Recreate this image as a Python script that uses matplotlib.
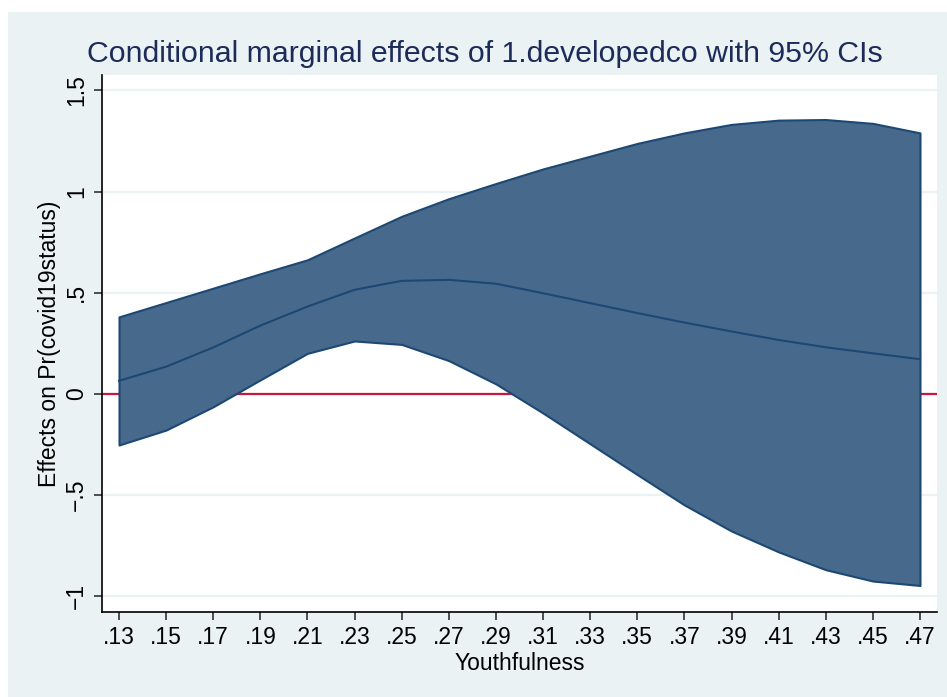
import matplotlib.pyplot as plt
from matplotlib.patches import Rectangle

plt.rcParams['font.family'] = ['Liberation Sans', 'DejaVu Sans']

# values
youth = [0.13, 0.15, 0.17, 0.19, 0.21, 0.23, 0.25, 0.27, 0.29,
         0.31, 0.33, 0.35, 0.37, 0.39, 0.41, 0.43, 0.45, 0.47]
effect = [0.065, 0.135, 0.230, 0.338, 0.432, 0.515, 0.559, 0.564, 0.545,
          0.498, 0.449, 0.400, 0.353, 0.309, 0.267, 0.231, 0.201, 0.172]
ci_upper = [0.381, 0.452, 0.523, 0.594, 0.663, 0.771, 0.878, 0.965, 1.040,
            1.112, 1.175, 1.238, 1.290, 1.332, 1.353, 1.356, 1.337, 1.290]
ci_lower = [-0.252, -0.178, -0.063, 0.070, 0.201, 0.262, 0.245, 0.165, 0.050,
            -0.094, -0.246, -0.398, -0.548, -0.677, -0.780, -0.868, -0.924, -0.946]
xticks = youth
xtick_labels = ['.13', '.15', '.17', '.19', '.21', '.23', '.25', '.27', '.29',
                '.31', '.33', '.35', '.37', '.39', '.41', '.43', '.45', '.47']
yticks = [-1, -0.5, 0, 0.5, 1, 1.5]
ytick_labels = ['\u22121', '\u2212.5', '0', '.5', '1', '1.5']

W, H = 947, 697
bg = '#EAF2F3'
band = '#476A8C'
edge = '#1C4873'

fig = plt.figure(figsize=(W / 100, H / 100), dpi=100, facecolor='white')
fig.patches.append(Rectangle((8 / W, 0), 1 - 8 / W, 1 - 12 / H,
                             transform=fig.transFigure, facecolor=bg,
                             edgecolor='none', zorder=-10))

ax = fig.add_axes([102 / W, (H - 612) / H, (937 - 102) / W, (612 - 75) / H])
ax.set_facecolor('white')

ax.fill_between(youth, ci_lower, ci_upper, facecolor=band, edgecolor=edge,
                linewidth=1.5, zorder=3)
ax.plot(youth, effect, color=edge, linewidth=1.5, zorder=4)
ax.axhline(0, color='#C8173E', linewidth=1.6, zorder=2)

ax.set_xlim(0.12278, 0.47722)
ax.set_ylim(-1.077, 1.576)
ax.set_xticks(xticks)
ax.set_xticklabels(xtick_labels, fontsize=16.5)
ax.set_yticks(yticks)
ax.set_yticklabels(ytick_labels, fontsize=16.5, rotation=90, va='center')
ax.grid(axis='y', color=bg, linewidth=1.6, zorder=0)
ax.set_axisbelow(True)

for side in ['top', 'right']:
    ax.spines[side].set_visible(False)
for side in ['left', 'bottom']:
    ax.spines[side].set_linewidth(1.2)
ax.tick_params(direction='out', length=6, width=1.1, color='#222222', pad=4)

ax.set_xlabel('Youthfulness', fontsize=16.5, labelpad=2)
ax.set_ylabel('Effects on Pr(covid19status)', fontsize=16.5, labelpad=3)

fig.text(485 / W, (H - 62) / H,
         'Conditional marginal effects of 1.developedco with 95% CIs',
         ha='center', va='baseline', fontsize=21.8, color='#1C2B5A')

fig.savefig('out.png', dpi=100, facecolor='white')
